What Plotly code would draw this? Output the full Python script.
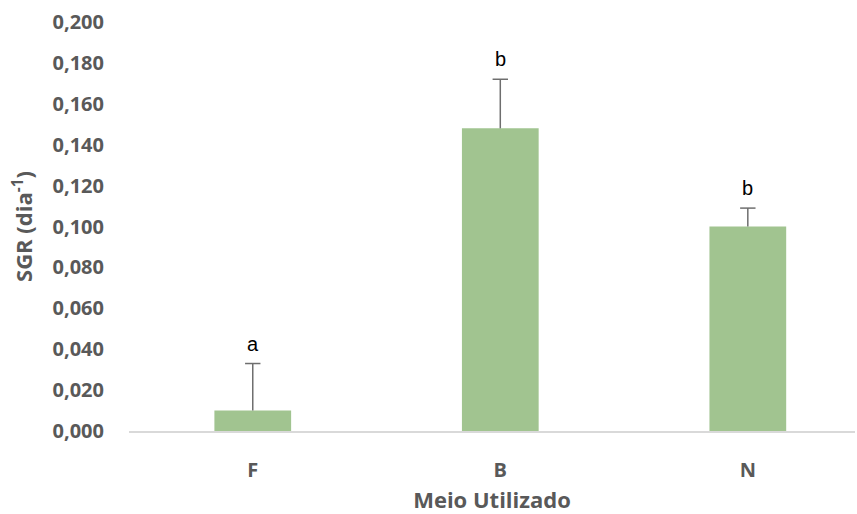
import plotly.graph_objects as go

# Specific growth rate by culture medium
meios = ["F", "B", "N"]
sgr = [0.010, 0.148, 0.100]
erro = [0.023, 0.024, 0.009]
letras = ["a", "b", "b"]
y_ticks = [0.000, 0.020, 0.040, 0.060, 0.080, 0.100, 0.120, 0.140, 0.160, 0.180, 0.200]

err_color = "#6E6E6E"
topo = [v + e for v, e in zip(sgr, erro)]

fig = go.Figure()
fig.add_trace(go.Bar(
    x=meios,
    y=sgr,
    width=0.31,
    marker=dict(color="#A1C490", line=dict(width=0)),
    error_y=dict(type="data", array=erro, arrayminus=[0, 0, 0], symmetric=False,
                 color=err_color, thickness=1.5, width=0),
))
# caps only on the upper end of each error bar
fig.add_trace(go.Scatter(
    x=meios, y=topo, mode="markers", hoverinfo="skip",
    marker=dict(symbol="line-ew", size=11, line=dict(color=err_color, width=1.5)),
))

for m, t, l in zip(meios, topo, letras):
    fig.add_annotation(x=m, y=t, text=l, showarrow=False, yanchor="bottom", yshift=7,
                       font=dict(family="Liberation Sans, Arial", size=20, color="#000000"))

fig.update_layout(
    width=857, height=514,
    margin=dict(l=129, r=2, t=22, b=83),
    paper_bgcolor="white", plot_bgcolor="white",
    showlegend=False,
    font=dict(family="Open Sans", color="#595959"),
    xaxis=dict(
        range=[-0.5, 2.433],
        showline=True, linecolor="#D9D9D9", linewidth=1.5,
        showgrid=False, ticks="", ticklabelstandoff=20,
        tickfont=dict(family="Open Sans", size=20, color="#595959", weight="bold"),
        title=dict(text="<b>Meio Utilizado</b>", standoff=14,
                   font=dict(family="Open Sans", size=22, color="#595959")),
    ),
    yaxis=dict(
        range=[0, 0.2],
        tickvals=y_ticks,
        ticktext=[f"{t:.3f}".replace(".", ",") for t in y_ticks],
        showgrid=False, zeroline=False, showline=False, ticks="",
        ticklabelstandoff=24,
        tickfont=dict(family="Open Sans", size=20, color="#595959", weight="bold"),
        title=dict(text="<b>SGR (dia<sup>-1</sup>)</b>", standoff=13,
                   font=dict(family="Open Sans", size=22, color="#595959")),
    ),
)

fig.write_html("out.html")
